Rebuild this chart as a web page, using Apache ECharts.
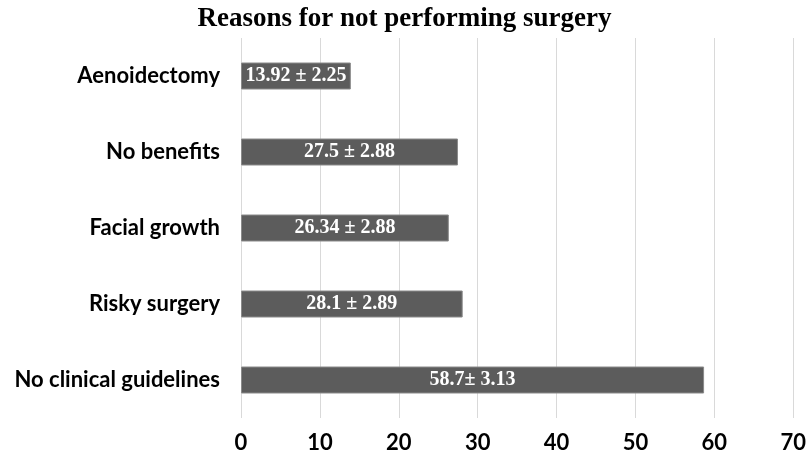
<!doctype html>
<html lang='en'>
<head>
<title>Reasons for not performing surgery</title>
<meta charset='utf-8'>
<style>
html, body { margin: 0; padding: 0; background: #fff; }
#chart { width: 809px; height: 460px; }
</style>
</head>
<body>
<div id="chart"></div>
<script src="https://cdn.jsdelivr.net/npm/echarts@6/dist/echarts.min.js"></script>
<script>
// categories, top to bottom
const categories = ['Aenoidectomy', 'No benefits', 'Facial growth', 'Risky surgery', 'No clinical guidelines'];
const means = [13.92, 27.5, 26.34, 28.1, 58.7];
const barLabels = ['13.92 ± 2.25', '27.5 ± 2.88', '26.34 ± 2.88', '28.1 ± 2.89', '58.7± 3.13'];

const chart = echarts.init(document.getElementById('chart'));
chart.setOption({
    animation: false,
    title: {
        text: 'Reasons for not performing surgery',
        left: 'center',
        top: 1,
        textStyle: {
            fontFamily: 'Liberation Serif',
            fontWeight: 'bold',
            fontSize: 27,
            color: '#000'
        }
    },
    grid: { left: 241, right: 14, top: 38, bottom: 42 },
    xAxis: {
        type: 'value',
        min: 0,
        max: 70,
        interval: 10,
        axisLine: { show: false },
        axisTick: { show: false },
        splitLine: { lineStyle: { color: '#d9d9d9', width: 1 } },
        axisLabel: {
            margin: 14,
            fontFamily: 'Lato',
            fontWeight: 'bold',
            fontSize: 22,
            color: '#000'
        }
    },
    yAxis: {
        type: 'category',
        data: categories,
        inverse: true,
        axisLine: { show: false },
        axisTick: { show: false },
        axisLabel: {
            margin: 21,
            fontFamily: 'Lato',
            fontWeight: 'bold',
            fontSize: 22,
            color: '#000'
        }
    },
    series: [{
        type: 'bar',
        data: means,
        barWidth: 27,
        itemStyle: { color: '#5c5c5c', borderColor: '#8a8a8a', borderWidth: 1 },
        label: {
            show: true,
            position: 'inside',
            formatter: p => barLabels[p.dataIndex],
            fontFamily: 'Liberation Serif',
            fontWeight: 'bold',
            fontSize: 20,
            color: '#fff'
        }
    }]
});
</script>
</body>
</html>
